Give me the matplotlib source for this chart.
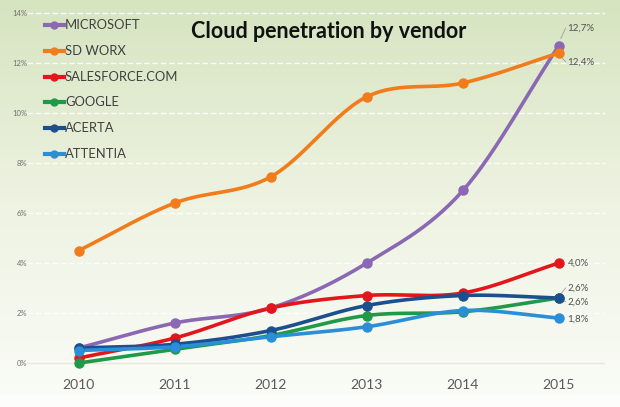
import numpy as np
import matplotlib
matplotlib.use('Agg')
from matplotlib import pyplot as plt
from matplotlib.colors import LinearSegmentedColormap

years = [2010, 2011, 2012, 2013, 2014, 2015]
vendors = ['MICROSOFT', 'SD WORX', 'SALESFORCE.COM', 'GOOGLE', 'ACERTA', 'ATTENTIA']
colors = ['#8a68b3', '#f17c1c', '#e3161c', '#1f9a48', '#1c4f8e', '#2a8fd6']

microsoft = [0.6, 1.6, 2.2, 4.0, 6.9, 12.7]
sd_worx = [4.5, 6.4, 7.45, 10.65, 11.2, 12.4]
salesforce = [0.2, 1.0, 2.2, 2.7, 2.8, 4.0]
google = [0.0, 0.55, 1.1, 1.9, 2.05, 2.6]
acerta = [0.6, 0.75, 1.3, 2.3, 2.7, 2.6]
attentia = [0.5, 0.65, 1.05, 1.45, 2.1, 1.8]
series = [microsoft, sd_worx, salesforce, google, acerta, attentia]

end_labels = ['12,7%', '12,4%', '4,0%', '2,6%', '2,6%', '1,8%']
# label y positions in data units (keeps close values apart)
label_y = [13.4, 12.05, 4.0, 3.0, 2.45, 1.75]
leader = [True, True, False, True, True, False]

W, H = 620, 407


def smooth(x, y, n=30):
    # Catmull-Rom curve through the points, like Excel's smoothed line
    x = np.asarray(x, float)
    y = np.asarray(y, float)
    px = np.concatenate([[2 * x[0] - x[1]], x, [2 * x[-1] - x[-2]]])
    py = np.concatenate([[2 * y[0] - y[1]], y, [2 * y[-1] - y[-2]]])
    xs, ys = [], []
    for i in range(1, len(px) - 2):
        t = np.linspace(0, 1, n)
        for p, out in ((px, xs), (py, ys)):
            p0, p1, p2, p3 = p[i - 1], p[i], p[i + 1], p[i + 2]
            out.append(0.5 * ((2 * p1) + (-p0 + p2) * t
                              + (2 * p0 - 5 * p1 + 4 * p2 - p3) * t ** 2
                              + (-p0 + 3 * p1 - 3 * p2 + p3) * t ** 3))
    return np.concatenate(xs), np.concatenate(ys)


fig = plt.figure(figsize=(W / 100, H / 100), dpi=100)
plt.rcParams['font.family'] = ['Lato', 'DejaVu Sans']

# background gradient
bg = fig.add_axes([0, 0, 1, 1])
cmap = LinearSegmentedColormap.from_list('bg', ['#fbfcf8', '#eef3e2', '#d6e4c0'])
grad = np.linspace(0, 1, 256).reshape(-1, 1)
bg.imshow(grad, aspect='auto', cmap=cmap, origin='lower', extent=[0, 1, 0, 1])
bg.axhspan(0, 12 / H, color='#fdfdfb')
bg.axis('off')

left, right, top, bottom = 27, 605, 8, 372
ax = fig.add_axes([left / W, 1 - bottom / H, (right - left) / W, (bottom - top) / H])
ax.patch.set_alpha(0)
ax.set_xlim(2009.46, 2015.48)
ax.set_ylim(-0.36, 14.2)
for s in ax.spines.values():
    s.set_visible(False)

for v in range(0, 15, 2):
    ax.axhline(v, color='#ffffff' if v else '#e4e8dc', lw=1.0,
               ls=(0, (4, 2)) if v else '-', zorder=1, alpha=0.9)

ax.set_yticks(range(0, 15, 2))
ax.set_yticklabels([f'{v}%' for v in range(0, 15, 2)], fontsize=5.5, color='#707070')
ax.set_xticks(years)
ax.set_xticklabels([str(y) for y in years], fontsize=10, color='#5a5a5a')
ax.tick_params(length=0)
ax.tick_params(axis='y', pad=0)
ax.tick_params(axis='x', pad=5)

for vals, c in zip(series, colors):
    sx, sy = smooth(years, vals)
    ax.plot(sx, sy, color=c, lw=2.6, zorder=3, solid_capstyle='round')
    ax.plot(years, vals, 'o', color=c, ms=6.5, zorder=4)

for vals, txt, ly, ld, c in zip(series, end_labels, label_y, leader, colors):
    ax.text(2015.09, ly, txt, fontsize=7, color='#505050', va='center', ha='left')
    if ld:
        ax.plot([2015.02, 2015.07], [vals[-1] + (ly - vals[-1]) * 0.4, ly],
                color='#a0a0a0', lw=0.6, zorder=2)

ax.set_title('Cloud penetration by vendor', fontsize=15.5, fontweight='bold',
             color='#111111', x=0.522, y=0.895)

# legend
for i, (name, c) in enumerate(zip(vendors, colors)):
    y = 1 - (25 + i * 25.8) / H
    fig.lines.append(plt.Line2D([45 / W, 64 / W], [y, y], color=c, lw=3,
                                transform=fig.transFigure))
    fig.lines.append(plt.Line2D([54 / W], [y], marker='o', color=c, ms=5,
                                transform=fig.transFigure))
    fig.text(65 / W, y, name, fontsize=9.4, color='#404040', va='center')

fig.savefig('out.png', dpi=100)
